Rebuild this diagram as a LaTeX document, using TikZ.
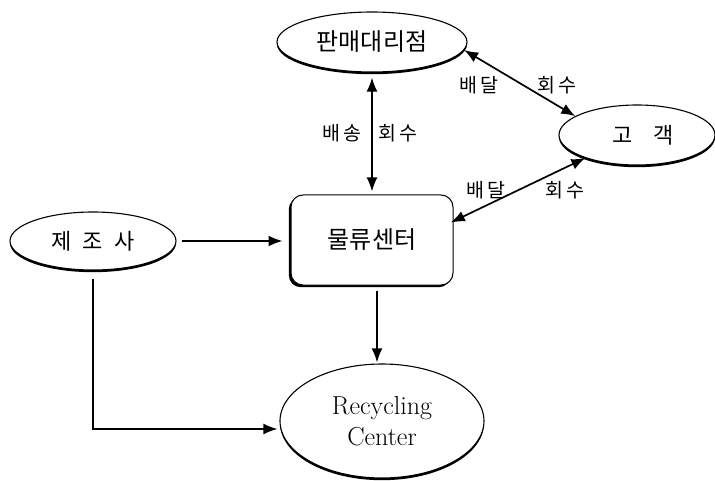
\documentclass[tikz,border=0pt]{standalone}
\usepackage{fontspec}
\newfontfamily\kr{Noto Sans CJK KR}
\usetikzlibrary{shapes.geometric,arrows.meta,shadows,calc}
\begin{document}
\begin{tikzpicture}[x=1pt,y=-1pt,
  ell/.style={ellipse, draw, line width=1.1pt, fill=white, inner sep=0pt,
    drop shadow={shadow xshift=0pt, shadow yshift=-2.2pt, opacity=1, fill=black}},
  boxst/.style={rectangle, rounded corners=12pt, draw, line width=1pt, fill=white,
    minimum width=162pt, minimum height=90pt, inner sep=0pt,
    drop shadow={shadow xshift=-2.2pt, shadow yshift=-2.2pt, opacity=1, fill=black}},
  tipst/.tip={Latex[length=14pt,width=11pt]},
  conn/.style={line width=1.7pt, -tipst},
  biconn/.style={line width=1.7pt, tipst-tipst},
  lbl/.style={font=\kr\fontsize{19.5}{21}\selectfont, inner sep=0pt}]
\useasboundingbox (0,0) rectangle (715,481);

% nodes
\node[ell, minimum width=190pt, minimum height=60pt, font=\kr\fontsize{24}{26}\selectfont] (dealer) at (372,42) {판매대리점};
\node[ell, minimum width=156pt, minimum height=60pt, font=\kr\fontsize{22}{24}\selectfont] (cust) at (637,135) {\hspace*{12pt}고\hspace{21pt}객};
\node[ell, minimum width=166pt, minimum height=58pt, font=\kr\fontsize{22}{24}\selectfont] (mfr) at (93,241) {제\hspace{11pt}조\hspace{11pt}사};
\node[boxst, font=\kr\fontsize{24}{26}\selectfont] (box) at (372,240) {물류센터};
\node[ell, minimum width=204pt, minimum height=114pt, align=center, font=\fontsize{26}{31}\selectfont] (rec) at (382,421) {Recycling\\Center};

% connectors
\draw[biconn, shorten <=5pt, shorten >=3pt] (dealer.south) -- (box.north);
\draw[biconn] (dealer.-5) -- (cust.163);
\draw[biconn, shorten <=-3pt] (box.13) -- (cust.204);
\draw[conn, shorten <=5pt, shorten >=8pt] (mfr.east) -- (mfr.east -| box.west);
\draw[conn, shorten <=5pt, shorten >=1pt] ($(box.south)+(5,0)$) -- ($(rec.north)+(-5,0)$);
\draw[conn, shorten <=8pt, shorten >=2pt] (mfr.south) |- ($(rec.west)+(0,8)$);

% labels
\node[lbl] (l1) at (342,133) {배\,송};
\node[lbl] (l2) at (398,133) {회\,수};
\node[lbl] (l3) at (479,85) {배\,달};
\node[lbl] (l4) at (557,85) {회\,수};
\node[lbl] (l5) at (486,190) {배\,달};
\node[lbl] (l6) at (565,190) {회\,수};
\end{tikzpicture}
\end{document}
